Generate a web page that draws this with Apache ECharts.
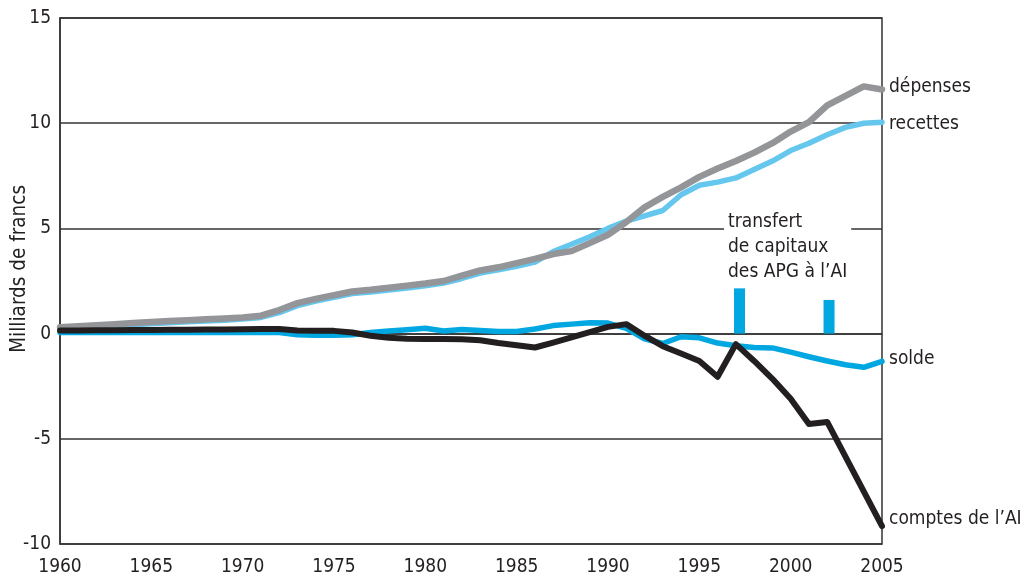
<!DOCTYPE html>
<html>
<head>
<meta charset="utf-8">
<script src="https://cdn.jsdelivr.net/npm/echarts@6/dist/echarts.min.js"></script>
<style>
html,body{margin:0;padding:0;background:#fff;}
#chart{width:1021px;height:577px;}
</style>
</head>
<body>
<div id="chart"></div>
<script>
const years = [1960,1961,1962,1963,1964,1965,1966,1967,1968,1969,1970,1971,1972,1973,1974,1975,1976,1977,1978,1979,1980,1981,1982,1983,1984,1985,1986,1987,1988,1989,1990,1991,1992,1993,1994,1995,1996,1997,1998,1999,2000,2001,2002,2003,2004,2005];
const depenses = [0.30,0.35,0.40,0.45,0.50,0.55,0.60,0.64,0.68,0.72,0.77,0.85,1.12,1.45,1.65,1.83,2.00,2.08,2.18,2.28,2.38,2.50,2.75,3.00,3.15,3.35,3.55,3.78,3.92,4.30,4.70,5.30,6.00,6.50,6.95,7.45,7.85,8.20,8.60,9.05,9.60,10.05,10.85,11.30,11.75,11.60];
const recettes = [0.22,0.27,0.32,0.37,0.42,0.47,0.52,0.56,0.60,0.64,0.69,0.77,1.00,1.33,1.55,1.73,1.90,1.98,2.07,2.17,2.27,2.40,2.62,2.88,3.03,3.20,3.40,3.90,4.25,4.60,5.00,5.35,5.60,5.85,6.60,7.05,7.20,7.40,7.80,8.20,8.70,9.05,9.45,9.80,10.00,10.05];
const solde = [0.05,0.05,0.05,0.05,0.05,0.05,0.05,0.05,0.05,0.05,0.05,0.05,0.05,-0.05,-0.08,-0.08,-0.05,0.05,0.12,0.18,0.25,0.12,0.20,0.15,0.10,0.10,0.22,0.38,0.45,0.52,0.50,0.25,-0.25,-0.47,-0.15,-0.20,-0.45,-0.58,-0.66,-0.68,-0.88,-1.10,-1.30,-1.48,-1.60,-1.32];
const comptesAI = [0.15,0.15,0.16,0.16,0.17,0.17,0.18,0.18,0.19,0.20,0.21,0.22,0.22,0.15,0.13,0.13,0.05,-0.10,-0.20,-0.25,-0.26,-0.26,-0.27,-0.32,-0.45,-0.55,-0.66,-0.43,-0.18,0.07,0.32,0.45,-0.10,-0.60,-0.95,-1.30,-2.05,-0.50,-1.30,-2.15,-3.10,-4.30,-4.20,-5.85,-7.50,-9.15];
const transferYears = [1997.2, 2002.1];
const transferValues = [2.15, 1.6];
const xTicks = [1960,1965,1970,1975,1980,1985,1990,1995,2000,2005];
const yTicks = [-10,-5,0,5,10,15];
const names = {depenses:'dépenses', recettes:'recettes', solde:'solde', comptes:'comptes de l\u2019AI'};
const annotation = ['transfert','de capitaux','des APG à l\u2019AI'];
const yTitle = 'Milliards de francs';

const FONT = "'DejaVu Sans Condensed','DejaVu Sans',sans-serif";
const FS = 19;
const TXT = '#231f20';
const pair = arr => years.map((y,i)=>[y, arr[i]]);

const chart = echarts.init(document.getElementById('chart'), null, {renderer:'canvas'});

function lineSeries(name, data, color, width, z, offY){
  return {
    type:'line', name, data:pair(data), showSymbol:false, symbol:'none', z,
    lineStyle:{color, width, cap:'round', join:'round'},
    itemStyle:{color},
    emphasis:{disabled:true},
    endLabel:{show:true, formatter:name, color:TXT, fontFamily:FONT, fontSize:FS, distance:7, offset:[0,offY]}
  };
}

chart.setOption({
  animation:false,
  grid:{left:60, right:139, top:18, bottom:28, show:true, borderColor:'#333', borderWidth:1.5, backgroundColor:'transparent'},
  xAxis:{
    type:'value', min:xTicks[0], max:xTicks[xTicks.length-1], interval:5,
    axisLine:{show:true, lineStyle:{color:'#333', width:1.5}},
    axisTick:{show:false},
    splitLine:{show:false},
    axisLabel:{color:TXT, fontFamily:FONT, fontSize:FS, margin:14, formatter:v=>String(v)}
  },
  yAxis:{
    type:'value', min:yTicks[0], max:yTicks[yTicks.length-1], interval:5,
    axisLine:{show:true, lineStyle:{color:'#333', width:1.5}},
    axisTick:{show:false},
    splitLine:{show:true, lineStyle:{color:'#333', width:1.5}},
    axisLabel:{color:TXT, fontFamily:FONT, fontSize:FS, margin:9}
  },
  graphic:[
    {type:'text', left:9, top:185, rotation:Math.PI/2, z:10,
     style:{text:yTitle, fill:TXT, font:"20.5px "+FONT}},
    {type:'text', left:724, top:210, z:50,
     style:{text:annotation.join('\n'), fill:TXT, font:FS+"px "+FONT, lineHeight:25, backgroundColor:'#fff', padding:[0,4,0,4]}}
  ],
  series:[
    {type:'bar', name:'transfert', data:transferYears.map((y,i)=>[y, transferValues[i]]), barWidth:11, z:1,
     itemStyle:{color:'#00a7e1'}, emphasis:{disabled:true}},
    lineSeries(names.recettes, recettes, '#66c7ee', 5.5, 3, 2),
    lineSeries(names.depenses, depenses, '#939598', 6.5, 4, -2),
    lineSeries(names.solde, solde, '#00a7e1', 5.5, 5, -2),
    lineSeries(names.comptes, comptesAI, '#231f20', 6, 6, -7)
  ]
});
</script>
</body>
</html>
